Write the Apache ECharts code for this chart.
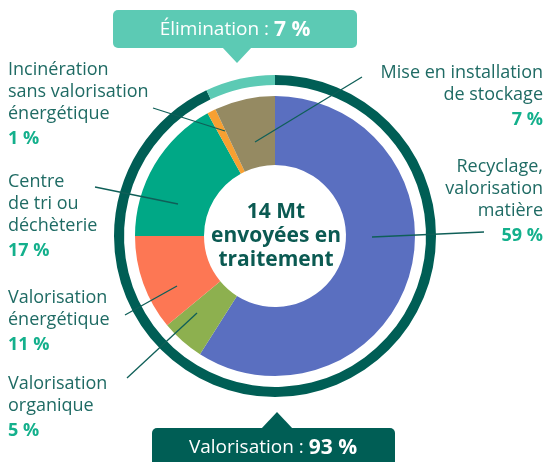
<!DOCTYPE html>
<html>
<head>
<meta charset="utf-8">
<script src="https://cdn.jsdelivr.net/npm/echarts@6/dist/echarts.min.js"></script>
<style>
html, body { margin: 0; padding: 0; background: #ffffff; }
#main { width: 547px; height: 462px; }
</style>
</head>
<body>
<div id="main"></div>
<script>
// données
var categories = ['Recyclage,\nvalorisation\nmatière', 'Valorisation\norganique', 'Valorisation\nénergétique', 'Centre\nde tri ou\ndéchèterie', 'Incinération\nsans valorisation\nénergétique', 'Mise en installation\nde stockage'];
var values = [59, 5, 11, 17, 1, 7];
var ringNames = ['Valorisation', 'Élimination'];
var ringValues = [93, 7];
var centerText = ['14 Mt', 'envoyées en', 'traitement'];

var colors = ['#5a6fc0', '#8db04f', '#fd7754', '#00a886', '#f7a032', '#958a62'];
var ringColors = ['#005e55', '#5ccab4'];
var textColor = '#1f6b64';
var pctColor = '#14b08c';
var font = '"Open Sans", sans-serif';

var cx = 275, cy = 236;

// position des étiquettes : [x, y, align, ligne]
var labelPos = [
    [543, 156, 'right', [[372, 237], [484, 232]]],
    [8, 373, 'left', [[197, 313], [127, 378]]],
    [8, 287, 'left', [[177, 286], [125, 315]]],
    [8, 171, 'left', [[178, 204], [95, 187]]],
    [8, 59, 'left', [[225, 131], [153, 108]]],
    [543, 62, 'right', [[255, 142], [362, 77]]]
];

var mainDiv = document.getElementById('main');
var myChart = echarts.init(mainDiv);

var graphics = [];
categories.forEach(function (name, i) {
    var p = labelPos[i];
    graphics.push({
        type: 'polyline',
        shape: { points: p[3] },
        style: { stroke: '#0f5f58', lineWidth: 1.3, fill: null },
        z: 10
    });
    graphics.push({
        type: 'text',
        x: p[0],
        y: p[1],
        style: {
            text: '{n|' + name.split('\n').join('}\n{n|') + '}\n{p|' + values[i] + ' %}',
            align: p[2],
            rich: {
                n: { fontSize: 18, lineHeight: 22, fill: textColor, fontFamily: font, align: p[2] },
                p: { fontSize: 18, lineHeight: 28, fill: pctColor, fontWeight: 'bold', fontFamily: font, align: p[2] }
            }
        },
        z: 10
    });
});

// bulle du haut
graphics.push({
    type: 'group',
    children: [
        { type: 'rect', shape: { x: 113, y: 10, width: 244, height: 38, r: 5 }, style: { fill: ringColors[1] } },
        { type: 'polygon', shape: { points: [[222, 47], [252, 47], [237, 63]] }, style: { fill: ringColors[1] } },
        {
            type: 'text', x: 235, y: 30,
            style: {
                text: '{a|' + ringNames[1] + ' : }{b|' + ringValues[1] + ' %}',
                align: 'center', verticalAlign: 'middle',
                rich: {
                    a: { fontSize: 19, fill: '#ffffff', fontFamily: font },
                    b: { fontSize: 21, fill: '#ffffff', fontWeight: 'bold', fontFamily: font }
                }
            }
        }
    ]
});
// bulle du bas
graphics.push({
    type: 'group',
    children: [
        { type: 'rect', shape: { x: 152, y: 428, width: 243, height: 50, r: 5 }, style: { fill: ringColors[0] } },
        { type: 'polygon', shape: { points: [[261, 429], [293, 429], [277, 412]] }, style: { fill: ringColors[0] } },
        {
            type: 'text', x: 273, y: 448,
            style: {
                text: '{a|' + ringNames[0] + ' : }{b|' + ringValues[0] + ' %}',
                align: 'center', verticalAlign: 'middle',
                rich: {
                    a: { fontSize: 19, fill: '#ffffff', fontFamily: font },
                    b: { fontSize: 21, fill: '#ffffff', fontWeight: 'bold', fontFamily: font }
                }
            }
        }
    ]
});
// texte central
graphics.push({
    type: 'text', x: cx + 1, y: cy,
    style: {
        text: centerText.join('\n'),
        align: 'center', verticalAlign: 'middle',
        fontSize: 21, lineHeight: 24, fontWeight: 'bold', fill: '#0b5a52', fontFamily: font
    },
    z: 10
});

var option = {
    backgroundColor: '#ffffff',
    animation: false,
    graphic: graphics,
    series: [
        {
            name: 'traitement',
            type: 'pie',
            center: [cx, cy],
            radius: [71, 140],
            startAngle: 90,
            clockwise: true,
            silent: true,
            label: { show: false },
            labelLine: { show: false },
            data: values.map(function (v, i) {
                return { name: categories[i], value: v, itemStyle: { color: colors[i] } };
            })
        },
        {
            name: 'anneau',
            type: 'pie',
            center: [cx, cy],
            radius: [151, 161],
            startAngle: 90,
            clockwise: true,
            silent: true,
            label: { show: false },
            labelLine: { show: false },
            data: ringValues.map(function (v, i) {
                return { name: ringNames[i], value: v, itemStyle: { color: ringColors[i] } };
            })
        }
    ]
};
myChart.setOption(option);
</script>
</body>
</html>
